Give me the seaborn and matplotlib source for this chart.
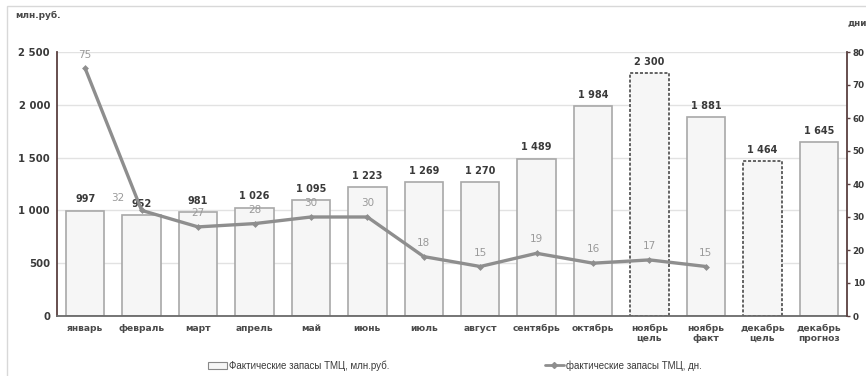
import numpy as np
import pandas as pd
import matplotlib
matplotlib.use("Agg")
import matplotlib.pyplot as plt
from matplotlib.patches import Rectangle
from matplotlib.lines import Line2D
import seaborn as sns

categories = ["январь", "февраль", "март", "апрель", "май", "июнь", "июль", "август",
              "сентябрь", "октябрь", "ноябрь\nцель", "ноябрь\nфакт", "декабрь\nцель",
              "декабрь\nпрогноз"]
stock_mln = [997, 952, 981, 1026, 1095, 1223, 1269, 1270, 1489, 1984, 2300, 1881, 1464, 1645]
stock_days = [75, 32, 27, 28, 30, 30, 18, 15, 19, 16, 17, 15]
target_flags = [False] * 10 + [True, False, True, False]
left_ticks = [0, 500, 1000, 1500, 2000, 2500]
right_ticks = [0, 10, 20, 30, 40, 50, 60, 70, 80]
bar_legend = "Фактические запасы ТМЦ, млн.руб."
line_legend = "фактические запасы ТМЦ, дн."

sns.set_theme(style="white")
plt.rcParams["font.family"] = ["DejaVu Sans"]
BOLD = ["DejaVu Sans"]
LEG = ["Liberation Sans", "DejaVu Sans"]

fig = plt.figure(figsize=(8.66, 3.76), dpi=100)
ax = fig.add_axes([57 / 866, 1 - 316 / 376, (847 - 57) / 866, (316 - 52) / 376])

df = pd.DataFrame({"cat": categories, "val": stock_mln})
sns.barplot(data=df, x="cat", y="val", order=categories, ax=ax, color="#f6f6f6",
            width=0.68, saturation=1, edgecolor="#a8a8a8", linewidth=1.2, zorder=2)

for patch, is_target in zip(ax.patches, target_flags):
    if is_target:
        patch.set_edgecolor("#3a3a3a")
        patch.set_linestyle((0, (2, 1.2)))
        patch.set_linewidth(1.1)

def fmt(v):
    return f"{v:,}".replace(",", " ")

for i, v in enumerate(stock_mln):
    ax.text(i, v + 60, fmt(v), ha="center", va="bottom", fontsize=7,
            fontweight="bold", color="#3a3a3a", family=BOLD)

ax.set_ylim(0, 2500)
ax.set_yticks(left_ticks)
ax.set_yticklabels([fmt(t) for t in left_ticks], fontsize=7.3, fontweight="bold",
                   color="#3a3a3a", family=BOLD)
ax.set_xlim(-0.5, len(categories) - 0.5)
ax.set_xticks(range(len(categories)))
ax.set_xticklabels(categories, fontsize=6.6, fontweight="bold", color="#4a4a4a",
                   linespacing=1.05, family=BOLD)
ax.set_xlabel("")
ax.set_ylabel("")
ax.yaxis.grid(True, color="#e2e2e2", linewidth=1, zorder=0)
ax.set_axisbelow(True)
for s in ["top", "right"]:
    ax.spines[s].set_visible(False)
ax.spines["left"].set_color("#5a4040")
ax.spines["left"].set_linewidth(1.3)
ax.spines["bottom"].set_color("#6a6a6a")
ax.spines["bottom"].set_linewidth(1.3)
ax.tick_params(axis="y", length=0, pad=5)
ax.tick_params(axis="x", length=0, pad=6)

ax2 = ax.twinx()
xs = np.arange(len(stock_days))
sns.lineplot(x=xs, y=stock_days, ax=ax2, color="#8e8e8e", linewidth=2.4,
             marker="D", markersize=3.5, markeredgewidth=0, zorder=5)
ax2.set_ylim(0, 80)
ax2.set_yticks(right_ticks)
ax2.set_yticklabels([str(t) for t in right_ticks], fontsize=6.3, fontweight="bold",
                    color="#3a3a3a", family=BOLD)
ax2.tick_params(axis="y", length=2.5, width=1, color="#5a4040", pad=1.5, direction="out")
for s in ["top", "left", "bottom"]:
    ax2.spines[s].set_visible(False)
ax2.spines["right"].set_color("#5a4040")
ax2.spines["right"].set_linewidth(1.3)
ax2.set_ylabel("")

for i, v in enumerate(stock_days):
    if i == 1:
        ax2.annotate(str(v), (i, v), xytext=(-17, 9), textcoords="offset points",
                     ha="center", va="center", fontsize=7.5, color="#9a9a9a")
    else:
        ax2.annotate(str(v), (i, v), xytext=(0, 10), textcoords="offset points",
                     ha="center", va="center", fontsize=7.5, color="#9a9a9a")

fig.text(15 / 866, 1 - 15 / 376, "млн.руб.", fontsize=6.5, fontweight="bold",
         color="#4a4a4a", ha="left", va="center", family=BOLD)
fig.text(847 / 866, 1 - 23 / 376, "дни", fontsize=6.3, fontweight="bold",
         color="#4a4a4a", ha="left", va="center", family=BOLD)

# outer frame
fig.patches.append(Rectangle((7 / 866, -0.01), 1.0, 1 - 6 / 376 + 0.01, transform=fig.transFigure,
                             fill=False, edgecolor="#d8d8d8", linewidth=1))

handles = [Rectangle((0, 0), 1, 1, facecolor="#f6f6f6", edgecolor="#888888", linewidth=0.8),
           Line2D([0], [0], color="#8e8e8e", linewidth=2, marker="D", markersize=3)]
fig.legend(handles, [bar_legend, line_legend], loc="center", bbox_to_anchor=(0.525, 0.028),
           ncol=2, frameon=False, columnspacing=16, handlelength=2.0,
           handletextpad=0.15, labelcolor="#3a3a3a",
           prop={"family": LEG, "size": 7})

fig.savefig("out.png", dpi=100)
